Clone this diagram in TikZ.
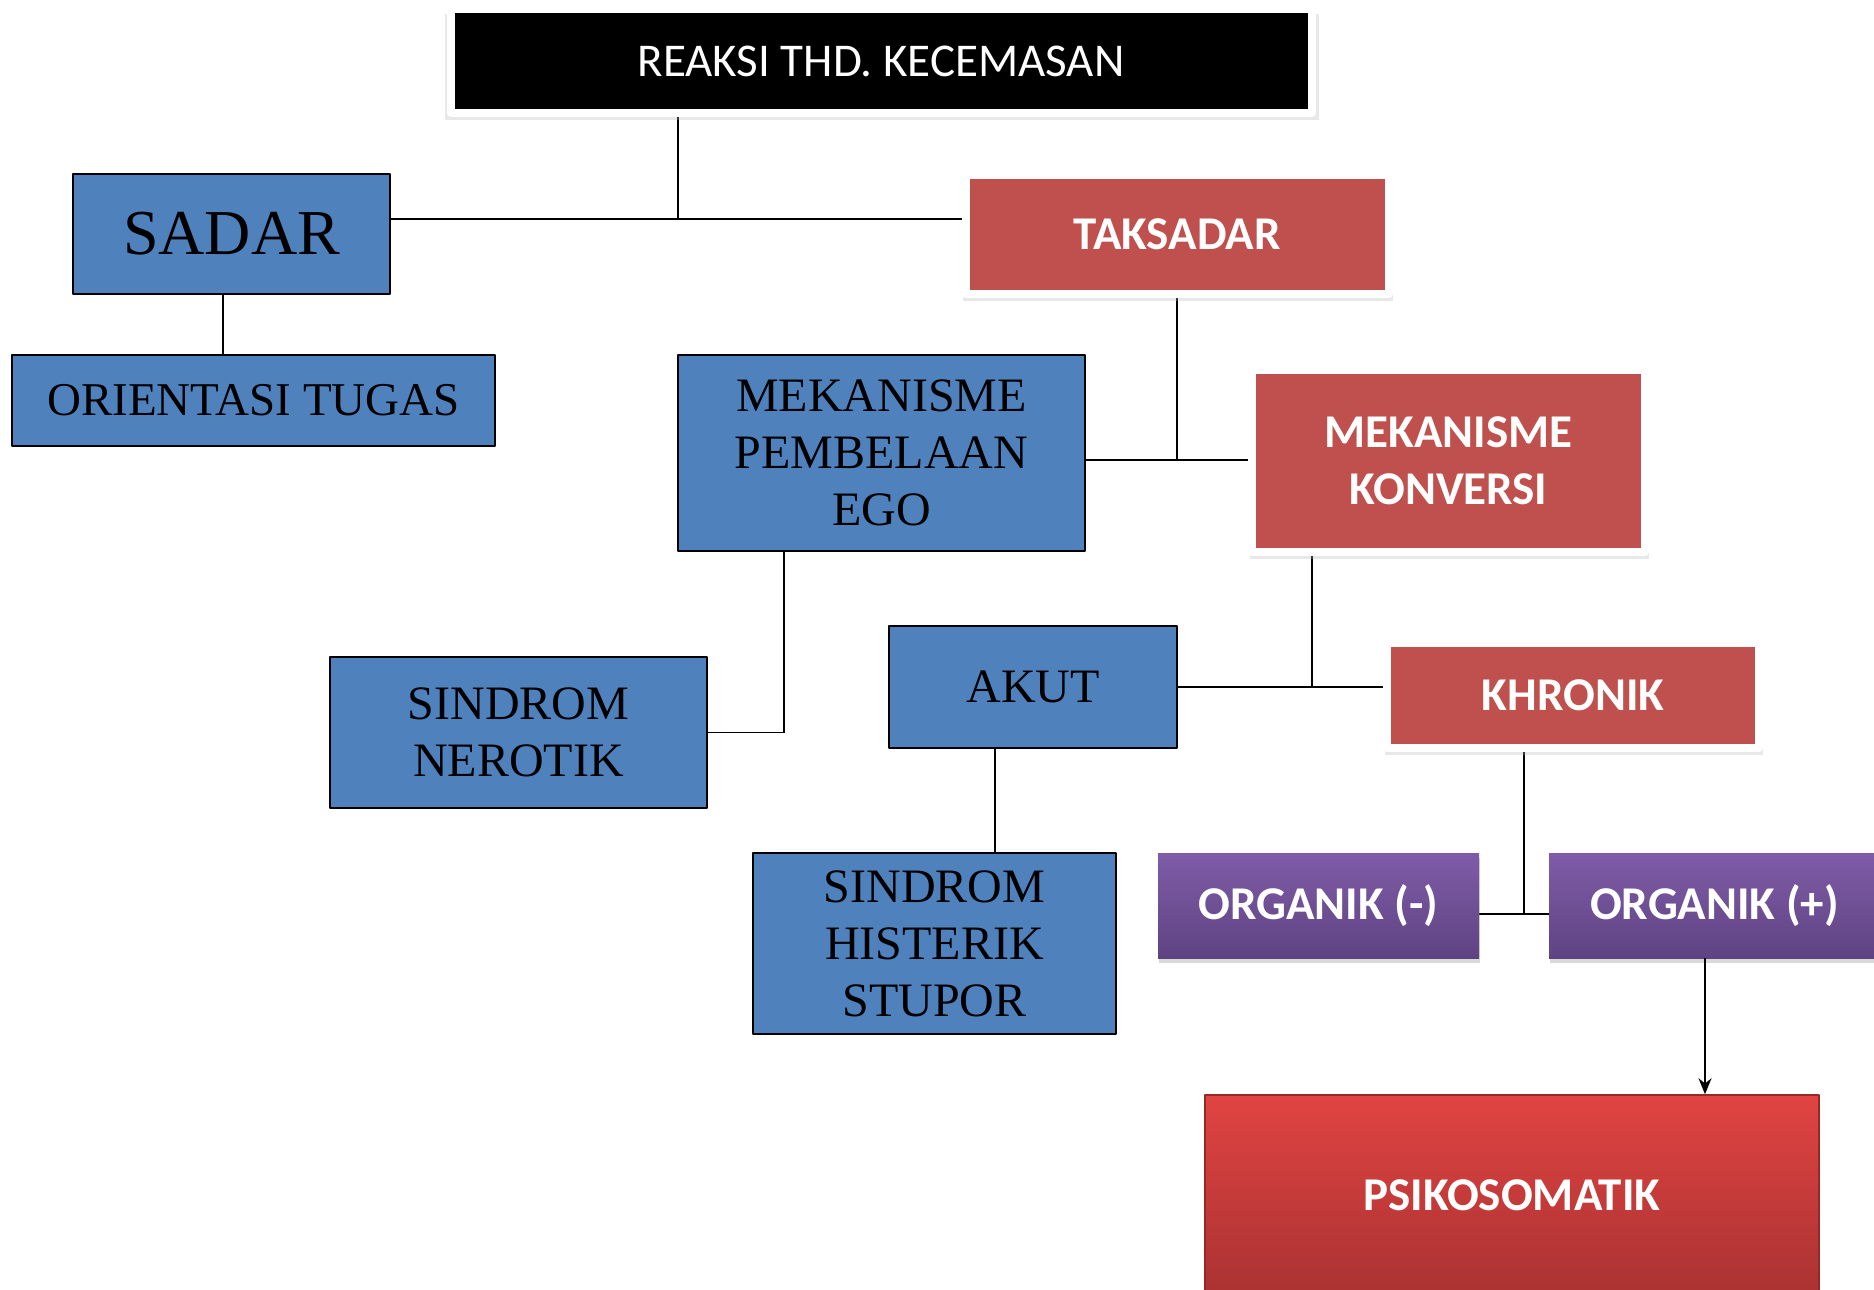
\documentclass[tikz,border=0pt]{standalone}
\usepackage{fontspec}
\setmainfont{Liberation Serif}
\newfontfamily\calibri{Carlito}
\usetikzlibrary{shadows,arrows.meta,backgrounds}
\definecolor{biruoff}{RGB}{79,129,189}
\definecolor{merahoff}{RGB}{192,80,77}
\definecolor{unguatas}{RGB}{128,92,168}
\definecolor{ungubawah}{RGB}{94,67,130}
\definecolor{psatas}{RGB}{224,68,66}
\definecolor{psbawah}{RGB}{170,50,50}

\begin{document}
\begin{tikzpicture}[x=1pt, y=-1pt, line join=round, >={Stealth[length=16pt,width=13pt]},
	garis/.style={line width=1.6pt},
	biru/.style={draw=black, line width=2pt, fill=biruoff, align=center, inner sep=0pt, font=\fontsize{48}{57}\selectfont},
	bingkai/.style={draw=white, line width=8pt, align=center, inner sep=0pt, text=white,
		general shadow={fill=black!30, shadow scale=1.015, shadow xshift=1pt, shadow yshift=-6pt, opacity=.3}},
	merah/.style={bingkai, fill=merahoff, font=\calibri\bfseries\fontsize{47}{57}\selectfont},
	ungu/.style={draw=none, top color=unguatas, bottom color=ungubawah, text=white, inner sep=0pt,
		font=\calibri\bfseries\fontsize{47}{57}\selectfont, drop shadow={shadow xshift=1pt, shadow yshift=-5pt, opacity=.3}}]
	\useasboundingbox (0,0) rectangle (1874,1290);
	%\draw[gray!30] (0,0) grid[step=100pt] (1874,1290);
	\node[bingkai, fill=black, minimum width=861pt, minimum height=104pt, font=\calibri\fontsize{47}{57}\selectfont] (reaksi) at (881,61) {REAKSI THD. KECEMASAN};
	\node[biru, minimum width=317pt, minimum height=120pt, font=\fontsize{64}{70}\selectfont] (sadar) at (231.5,234) {SADAR};
	\node[biru, minimum width=483pt, minimum height=91pt, font=\fontsize{47}{56}\selectfont] (orientasi) at (253.5,400.5) {ORIENTASI TUGAS};
	\node[merah, minimum width=423pt, minimum height=119pt] (taksadar) at (1177,234.5) {TAKSADAR};
	\node[biru, minimum width=407pt, minimum height=196pt] (pembelaan) at (881.5,453) {MEKANISME\\PEMBELAAN\\EGO};
	\node[merah, minimum width=393pt, minimum height=182pt] (konversi) at (1448.5,461) {MEKANISME\\KONVERSI};
	\node[biru, minimum width=377pt, minimum height=151pt] (nerotik) at (518.5,732.5) {SINDROM\\NEROTIK};
	\node[biru, minimum width=288pt, minimum height=122pt] (akut) at (1033,687) {AKUT};
	\node[merah, minimum width=372pt, minimum height=105pt] (khronik) at (1573,695.5) {KHRONIK};
	\node[biru, minimum width=363pt, minimum height=181pt] (histerik) at (934.5,943.5) {SINDROM\\HISTERIK\\STUPOR};
	\node[ungu, minimum width=321pt, minimum height=105pt] (orgmin) at (1318.5,905.5) {ORGANIK (-)};
	\node[ungu, minimum width=331pt, minimum height=105pt] (orgplus) at (1714.5,905.5) {ORGANIK (+)};
	\node[draw={rgb,255:red,150;green,40;blue,40}, line width=1.5pt, top color=psatas, bottom color=psbawah, text=white, inner sep=0pt,
		minimum width=614pt, minimum height=200pt, font=\calibri\bfseries\fontsize{47}{57}\selectfont] (psiko) at (1512,1195) {PSIKOSOMATIK};
	\coordinate (j1) at (678,219); \coordinate (j2) at (1177,460); \coordinate (j3) at (784,731);
	\coordinate (j4) at (1312,687); \coordinate (j5) at (1524,914); \coordinate (j6) at (995,800); \coordinate (j7) at (1705,1000);
	\begin{scope}[on background layer]
		\draw[garis] (reaksi.south -| j1) -- (j1);
		\draw[garis] (sadar.east |- j1) -- (taksadar.west |- j1);
		\draw[garis] (sadar.south -| 223,0) -- (orientasi.north -| 223,0);
		\draw[garis] (taksadar.south -| j2) -- (j2);
		\draw[garis] (pembelaan.east |- j2) -- (konversi.west |- j2);
		\draw[garis] (pembelaan.south -| j3) |- (nerotik.east);
		\draw[garis] (konversi.south -| j4) -- (j4);
		\draw[garis] (akut.east) -- (khronik.west |- akut.east);
		\draw[garis] (akut.south -| j6) -- (histerik.north -| j6);
		\draw[garis] (khronik.south -| j5) -- (j5);
		\draw[garis] (orgmin.east |- j5) -- (orgplus.west |- j5);
	\end{scope}
	\draw[garis,->] (orgplus.south -| j7) -- (psiko.north -| j7);
\end{tikzpicture}
\end{document}
